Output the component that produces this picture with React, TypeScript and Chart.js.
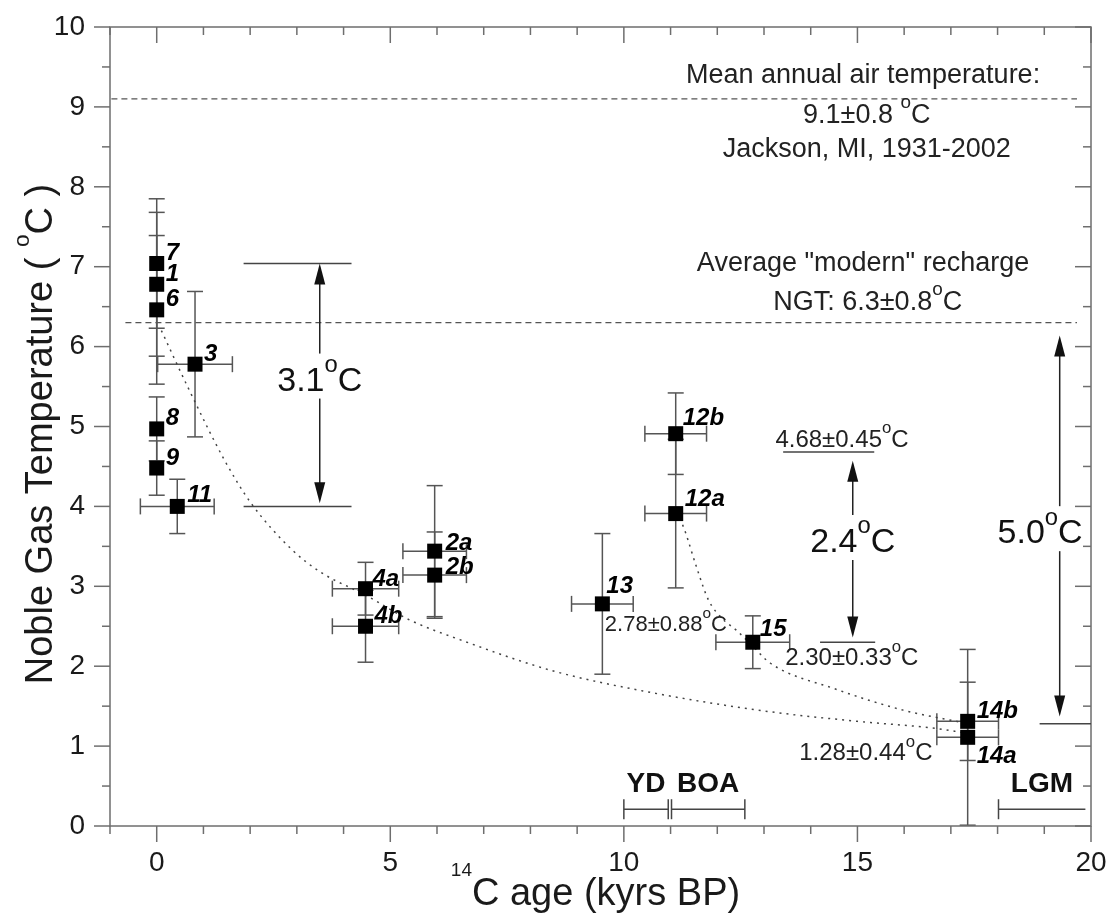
import React, { useEffect, useRef } from 'react';
import { Chart, registerables } from 'chart.js';

Chart.register(...registerables);

const FONT = '"Liberation Sans", Arial, Helvetica, sans-serif';

// Noble gas temperatures by sample (14C age in kyrs BP, NGT in °C)
const sampleIds = ['7', '1', '6', '3', '8', '9', '11', '4a', '4b', '2a', '2b', '13', '12b', '12a', '15', '14b', '14a'];
const ages = [0, 0, 0, 0.82, 0, 0, 0.44, 4.47, 4.47, 5.95, 5.95, 9.54, 11.11, 11.11, 12.76, 17.36, 17.36];
const ageErr = [0, 0, 0, 0.8, 0, 0, 0.79, 0.71, 0.71, 0.68, 0.68, 0.66, 0.66, 0.66, 0.79, 0.66, 0.66];
const ngt = [7.04, 6.78, 6.46, 5.78, 4.97, 4.48, 4.0, 2.97, 2.5, 3.44, 3.14, 2.78, 4.91, 3.91, 2.3, 1.31, 1.11];
const ngtErr = [0.81, 0.9, 0.93, 0.91, 0.4, 0.34, 0.34, 0.33, 0.45, 0.82, 0.54, 0.88, 0.51, 0.93, 0.33, 0.49, 1.1];

// Axis ticks
const xTickValues = [0, 5, 10, 15, 20];
const yTickValues = [0, 1, 2, 3, 4, 5, 6, 7, 8, 9, 10];

// Dotted trend curves
const trendAX = [0.1, 0.66, 1.45, 2.02, 2.91, 3.5, 4.5, 5.41, 6.5, 8.49, 10.5, 13, 15, 16.7, 17.25];
const trendAY = [6.2, 5.5, 4.58, 4.04, 3.45, 3.18, 2.88, 2.58, 2.33, 1.94, 1.68, 1.44, 1.31, 1.22, 1.17];
const trendBX = [11.2, 11.31, 11.55, 11.81, 12.1, 12.41, 12.76, 13.13, 14.5, 15.98, 17.2];
const trendBY = [3.85, 3.69, 3.25, 2.83, 2.6, 2.45, 2.25, 2.04, 1.72, 1.45, 1.3];

// Reference temperatures (dashed lines)
const meanAirTemp = 9.1;
const modernNgt = 6.3;
const refLineFrom = -0.97;
const refLineTo = 19.7;

// Climate periods
const periodNames = ['YD', 'BOA', 'LGM'];
const periodStart = [10.0, 11.02, 18.02];
const periodEnd = [10.95, 12.59, 19.88];
const periodRightCap = [true, true, false];
const periodLevel = 0.21;

// Temperature shifts (arrows)
const deltaLabels = ['3.1^{o}C', '2.4^{o}C', '5.0^{o}C'];
const deltaArrowX = [3.49, 14.9, 19.33];
const deltaTipHigh = [7.04, 4.57, 6.14];
const deltaTipLow = [4.04, 2.36, 1.37];
const deltaLabelX = [3.49, 14.9, 18.91];
const deltaLabelY = [5.6, 3.58, 3.69];
// horizontal reference segments: [xFrom, xTo, y]
const deltaSegments = [
  [1.86, 4.17, 7.04],
  [1.86, 4.17, 4.0],
  [13.41, 15.36, 4.68],
  [14.2, 15.38, 2.3],
  [18.9, 20, 1.28],
];

// Text notes: text, x, y (cap centre), font size
const notes: [string, number, number, number][] = [
  ['Mean annual air temperature:', 15.12, 9.42, 27],
  ['9.1±0.8 ^{o}C', 15.2, 8.92, 27],
  ['Jackson, MI, 1931-2002', 15.2, 8.5, 27],
  ['Average "modern" recharge', 15.12, 7.07, 27],
  ['NGT: 6.3±0.8^{o}C', 15.22, 6.58, 27],
  ['4.68±0.45^{o}C', 14.67, 4.855, 24],
  ['2.30±0.33^{o}C', 14.88, 2.12, 24],
  ['2.78±0.88^{o}C', 10.9, 2.545, 22],
  ['1.28±0.44^{o}C', 15.18, 0.93, 24],
];

// Sample label offsets in px (dx, dy) relative to the marker
const labelOffsetDefault = [9, -12];
const labelOffsets: Record<string, number[]> = {
  '13': [4, -19],
  '15': [7, -15],
  '12a': [9, -16],
  '12b': [7, -17],
  '14a': [9, 17],
  '4a': [7, -11],
  '2a': [11, -10],
  '2b': [11, -10],
  '11': [10, -13],
};

type Seg = { t: string; sup: boolean };
function parseRich(s: string): Seg[] {
  const out: Seg[] = [];
  const re = /\^\{([^}]*)\}/g;
  let last = 0;
  let m: RegExpExecArray | null;
  while ((m = re.exec(s))) {
    if (m.index > last) out.push({ t: s.slice(last, m.index), sup: false });
    out.push({ t: m[1], sup: true });
    last = m.index + m[0].length;
  }
  if (last < s.length) out.push({ t: s.slice(last), sup: false });
  return out;
}

function drawRich(
  ctx: CanvasRenderingContext2D,
  text: string,
  x: number,
  y: number,
  size: number,
  opt: { align?: string; weight?: string; style?: string; color?: string; supScale?: number; supRise?: number } = {}
) {
  const align = opt.align || 'center';
  const weight = opt.weight || 'normal';
  const style = opt.style || 'normal';
  const supScale = opt.supScale ?? 0.7;
  const supRise = opt.supRise ?? 0.55;
  const segs = parseRich(text);
  const fontOf = (s: number) => `${style} ${weight} ${s}px ${FONT}`;
  let total = 0;
  const widths = segs.map((sg) => {
    ctx.font = fontOf(sg.sup ? size * supScale : size);
    const w = ctx.measureText(sg.t).width;
    total += w;
    return w;
  });
  let cx = align === 'center' ? x - total / 2 : align === 'right' ? x - total : x;
  const base = y + 0.358 * size;
  ctx.fillStyle = opt.color || '#1a1a1a';
  ctx.textAlign = 'left';
  ctx.textBaseline = 'alphabetic';
  segs.forEach((sg, i) => {
    ctx.font = fontOf(sg.sup ? size * supScale : size);
    ctx.fillText(sg.t, cx, sg.sup ? base - supRise * size : base);
    cx += widths[i];
  });
}

function line(ctx: CanvasRenderingContext2D, x1: number, y1: number, x2: number, y2: number) {
  ctx.beginPath();
  ctx.moveTo(x1, y1);
  ctx.lineTo(x2, y2);
  ctx.stroke();
}

function arrowHead(ctx: CanvasRenderingContext2D, x: number, tipY: number, dir: number) {
  // dir = -1: pointing up, dir = 1: pointing down
  ctx.beginPath();
  ctx.moveTo(x, tipY);
  ctx.lineTo(x - 5.5, tipY - dir * 21);
  ctx.lineTo(x + 5.5, tipY - dir * 21);
  ctx.closePath();
  ctx.fill();
}

const overlay = {
  id: 'overlay',
  beforeDatasetsDraw(chart: any) {
    const { ctx } = chart;
    const xs = chart.scales.x;
    const ys = chart.scales.y;
    ctx.save();
    ctx.strokeStyle = '#555';
    ctx.lineWidth = 1.5;
    const cap = 8;
    for (let i = 0; i < ages.length; i++) {
      const px = xs.getPixelForValue(ages[i]);
      const py = ys.getPixelForValue(ngt[i]);
      const yTop = ys.getPixelForValue(ngt[i] + ngtErr[i]);
      const yBot = ys.getPixelForValue(Math.max(0, ngt[i] - ngtErr[i]));
      line(ctx, px, yTop, px, yBot);
      line(ctx, px - cap, yTop, px + cap, yTop);
      line(ctx, px - cap, yBot, px + cap, yBot);
      if (ageErr[i] > 0) {
        const xl = xs.getPixelForValue(ages[i] - ageErr[i]);
        const xr = xs.getPixelForValue(ages[i] + ageErr[i]);
        line(ctx, xl, py, xr, py);
        line(ctx, xl, py - cap, xl, py + cap);
        line(ctx, xr, py - cap, xr, py + cap);
      }
    }
    ctx.restore();
  },
  afterDraw(chart: any) {
    const { ctx, chartArea: a } = chart;
    const xs = chart.scales.x;
    const ys = chart.scales.y;
    const X = (v: number) => xs.getPixelForValue(v);
    const Y = (v: number) => ys.getPixelForValue(v);
    ctx.save();

    // frame and tick marks
    ctx.strokeStyle = '#6e6e6e';
    ctx.lineWidth = 1.5;
    ctx.strokeRect(a.left, a.top, a.right - a.left, a.bottom - a.top);
    for (let v = -1; v <= 20; v++) {
      const len = v % 5 === 0 ? 16 : 8;
      const px = X(v);
      line(ctx, px, a.bottom, px, a.bottom + len);
      line(ctx, px, a.top, px, a.top + len);
    }
    for (let k = 0; k <= 20; k++) {
      const v = k / 2;
      const len = k % 2 === 0 ? 16 : 8;
      const py = Y(v);
      line(ctx, a.left - len, py, a.left, py);
      line(ctx, a.right - len, py, a.right, py);
    }

    // climate periods
    ctx.strokeStyle = '#444';
    ctx.lineWidth = 1.5;
    const pl = Y(periodLevel);
    periodNames.forEach((name, i) => {
      const x1 = X(periodStart[i]);
      const x2 = X(periodEnd[i]);
      line(ctx, x1, pl, x2, pl);
      line(ctx, x1, pl - 10, x1, pl + 10);
      if (periodRightCap[i]) line(ctx, x2, pl - 10, x2, pl + 10);
      drawRich(ctx, name, (x1 + x2) / 2, pl - 27, 28, { weight: 'bold', color: '#111' });
    });

    // temperature shift segments and arrows
    ctx.strokeStyle = '#444';
    deltaSegments.forEach(([f, t, v]) => line(ctx, X(f), Y(v), X(t), Y(v)));
    deltaLabels.forEach((lab, i) => {
      const ax = X(deltaArrowX[i]);
      const top = Y(deltaTipHigh[i]);
      const bot = Y(deltaTipLow[i]);
      const ly = Y(deltaLabelY[i]);
      ctx.strokeStyle = '#222';
      ctx.fillStyle = '#111';
      ctx.lineWidth = 1.5;
      line(ctx, ax, top + 10, ax, ly - 25);
      line(ctx, ax, ly + 20, ax, bot - 10);
      arrowHead(ctx, ax, top, -1);
      arrowHead(ctx, ax, bot, 1);
      drawRich(ctx, lab, X(deltaLabelX[i]), ly, 34, { color: '#111' });
    });

    // notes
    notes.forEach(([t, x, y, s]) => drawRich(ctx, t, X(x), Y(y), s, { color: '#222' }));

    // sample labels
    sampleIds.forEach((id, i) => {
      const off = labelOffsets[id] || labelOffsetDefault;
      drawRich(ctx, id, X(ages[i]) + off[0], Y(ngt[i]) + off[1], 24, {
        align: 'left',
        weight: 'bold',
        style: 'italic',
        color: '#000',
      });
    });

    // axis titles
    drawRich(ctx, '^{14}C age (kyrs BP)', 595.5, 891, 38, { supScale: 0.5, supRise: 0.76 });
    ctx.translate(38, 434);
    ctx.rotate(-Math.PI / 2);
    drawRich(ctx, 'Noble Gas Temperature ( ^{o}C )', 0, 0, 38, { supScale: 0.6, supRise: 0.6 });
    ctx.restore();
  },
};

const noOverflow = (s: any) => {
  s.paddingTop = 0;
  s.paddingBottom = 0;
  s.paddingLeft = 0;
  s.paddingRight = 0;
};

export default function App() {
  const ref = useRef<HTMLCanvasElement | null>(null);
  useEffect(() => {
    document.body.style.margin = '0';
    const canvas = ref.current;
    if (!canvas) return;
    const pts = (xs: number[], ys: number[]) => xs.map((x, i) => ({ x, y: ys[i] }));
    const chart = new Chart(canvas, {
      type: 'scatter',
      data: {
        datasets: [
          {
            label: 'NGT',
            data: pts(ages, ngt),
            pointStyle: 'rect',
            pointRadius: 10.6,
            backgroundColor: '#000',
            borderWidth: 0,
            order: 0,
          },
          {
            type: 'line',
            label: 'trend A',
            data: pts(trendAX, trendAY),
            borderColor: '#444',
            borderWidth: 1.5,
            borderDash: [2, 5],
            pointRadius: 0,
            cubicInterpolationMode: 'monotone',
            fill: false,
            order: 1,
          },
          {
            type: 'line',
            label: 'trend B',
            data: pts(trendBX, trendBY),
            borderColor: '#444',
            borderWidth: 1.5,
            borderDash: [2, 5],
            pointRadius: 0,
            cubicInterpolationMode: 'monotone',
            fill: false,
            order: 1,
          },
          {
            type: 'line',
            label: 'mean annual air temperature',
            data: [{ x: refLineFrom, y: meanAirTemp }, { x: refLineTo, y: meanAirTemp }],
            borderColor: '#555',
            borderWidth: 1.3,
            borderDash: [6, 4],
            pointRadius: 0,
            order: 1,
          },
          {
            type: 'line',
            label: 'modern recharge NGT',
            data: [{ x: refLineFrom + 0.3, y: modernNgt }, { x: refLineTo, y: modernNgt }],
            borderColor: '#555',
            borderWidth: 1.3,
            borderDash: [6, 4],
            pointRadius: 0,
            order: 1,
          },
        ],
      } as any,
      options: {
        responsive: false,
        animation: false,
        layout: { padding: { top: 27, right: 21, left: 0, bottom: 0 } },
        plugins: { legend: { display: false }, tooltip: { enabled: false } },
        scales: {
          x: {
            type: 'linear',
            min: -1,
            max: 20,
            afterBuildTicks: (s: any) => {
              s.ticks = xTickValues.map((value) => ({ value }));
            },
            afterFit: (s: any) => {
              s.height = 90;
              noOverflow(s);
            },
            grid: { display: false, drawTicks: false },
            border: { display: false },
            ticks: { font: { family: FONT, size: 28 }, color: '#1a1a1a', padding: 20, maxRotation: 0 },
          },
          y: {
            type: 'linear',
            min: 0,
            max: 10,
            afterBuildTicks: (s: any) => {
              s.ticks = yTickValues.map((value) => ({ value }));
            },
            afterFit: (s: any) => {
              s.width = 110;
              noOverflow(s);
            },
            grid: { display: false, drawTicks: false },
            border: { display: false },
            ticks: { font: { family: FONT, size: 28 }, color: '#1a1a1a', padding: 25 },
          },
        },
      } as any,
      plugins: [overlay],
    });
    return () => chart.destroy();
  }, []);
  return (
    <div style={{ position: 'absolute', left: 0, top: 0, width: 1112, height: 916, background: '#fff' }}>
      <canvas ref={ref} width={1112} height={916} />
    </div>
  );
}
